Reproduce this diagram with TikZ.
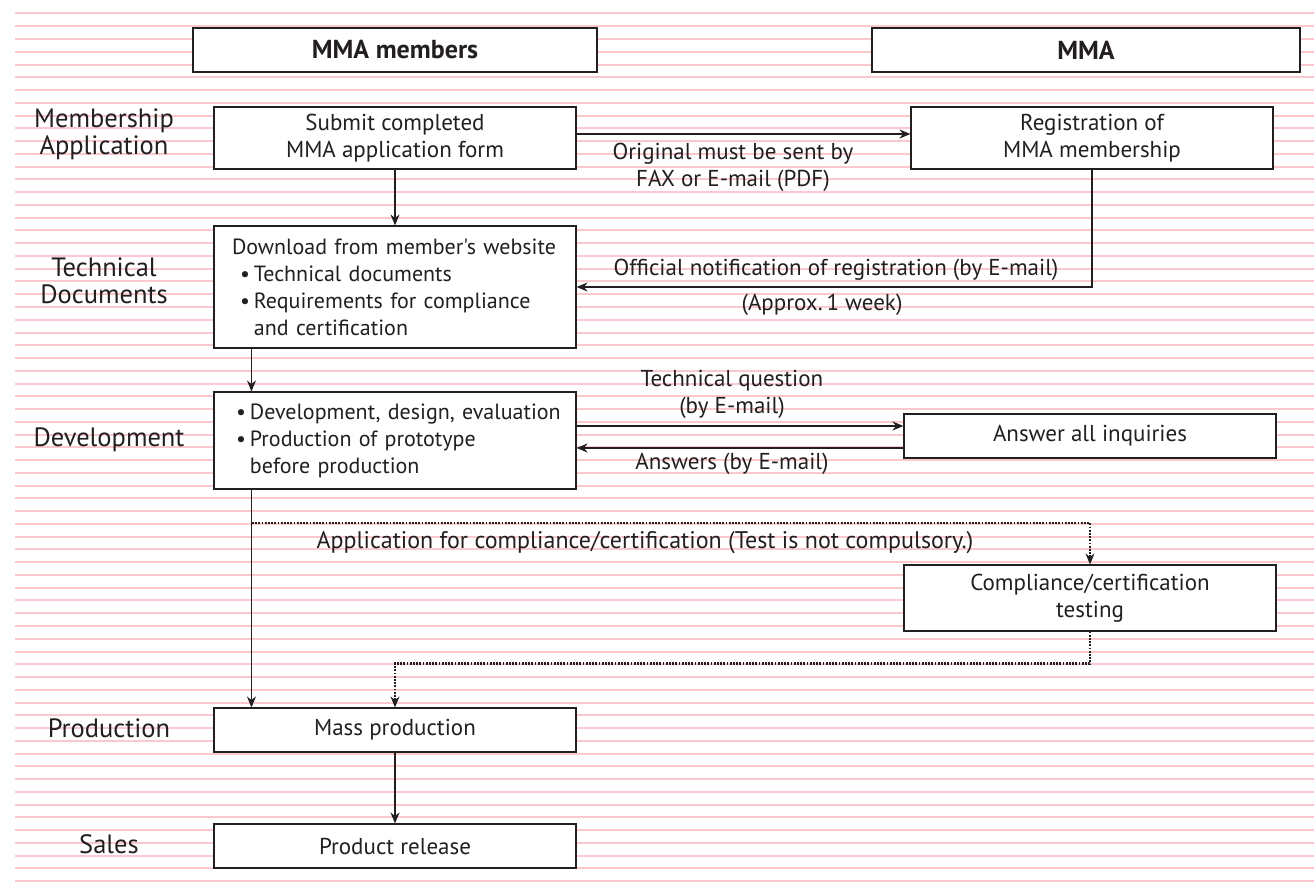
\documentclass[tikz,border=0pt]{standalone}
\usepackage{fontspec}
\setmainfont{PT Sans}[Ligatures=TeXOff]
\usetikzlibrary{arrows.meta,calc}
\definecolor{pinkline}{RGB}{251,200,205}
\definecolor{ink}{RGB}{35,31,32}
\begin{document}
\begin{tikzpicture}[x=1pt,y=-1pt,
  every node/.style={font=\fontsize{23}{27}\selectfont, text=ink},
  box/.style={draw=ink, line width=1.1pt, fill=white, inner sep=0pt, align=center},
  lbox/.style={box, text width=344, inner xsep=9pt, align=left, font=\fontsize{22}{27}\selectfont},
  hdr/.style={box, font=\fontsize{26}{30}\selectfont\bfseries},
  side/.style={align=center, font=\fontsize{26.5}{27}\selectfont},
  arr/.style={draw=ink, line width=1.1pt, -{Stealth[length=11pt,width=9pt]}},
  dotarr/.style={arr, line width=2.2pt, dash pattern=on 1.8pt off 1.4pt, -{Stealth[length=11pt,width=9pt,line width=0pt]}},
  bgline/.style={draw=pinkline, line width=2pt},
  lbl/.style={align=center}]
\useasboundingbox (0,0) rectangle (1314,888);
\fill[white] (0,0) rectangle (1314,888);
\foreach \i in {0,...,68}{
  \draw[bgline] (15,{13.5+\i*12.76}) -- (1314,{13.5+\i*12.76});
}
% headers
\node[hdr, minimum width=404, minimum height=44] (h1) at (395,50) {MMA members};
\node[hdr, minimum width=428, minimum height=44] (h2) at (1086,50) {MMA};
% left labels
\node[side] (l1) at (104,134) {Membership\\Application};
\node[side] (l2) at (104,281) {Technical\\Documents};
\node[side] (l3) at (109,440) {Development};
\node[side] (l4) at (109,728) {Production};
\node[side] (l5) at (109,844) {Sales};
% boxes
\node[box, minimum width=362, minimum height=62] (sub) at (395,138) {Submit completed\\MMA application form};
\node[box, minimum width=362, minimum height=62] (reg) at (1092,138) {Registration of\\MMA membership};
\node[lbox, minimum width=362, minimum height=122] (dl) at (395,287)
  {\mbox{\hspace*{9pt}Download from member's website}\\
   \mbox{\hspace*{17pt}\textbullet\hspace{4pt}Technical documents}\\
   \mbox{\hspace*{17pt}\textbullet\hspace{4pt}Requirements for compliance}\\
   \mbox{\hspace*{17pt}\phantom{\textbullet}\hspace{4pt}and certification}};
\node[lbox, minimum width=362, minimum height=97] (dev) at (395,440.5)
  {\mbox{\hspace*{13pt}\textbullet\hspace{4pt}Development, design, evaluation}\\
   \mbox{\hspace*{13pt}\textbullet\hspace{4pt}Production of prototype}\\
   \mbox{\hspace*{13pt}\phantom{\textbullet}\hspace{4pt}before production}};
\node[box, minimum width=372, minimum height=44] (ans) at (1090,436) {Answer all inquiries};
\node[box, minimum width=372, minimum height=66] (comp) at (1090,598) {Compliance/certification\\testing};
\node[box, minimum width=362, minimum height=44] (mass) at (395,730) {Mass production};
\node[box, minimum width=362, minimum height=44] (rel) at (395,846) {Product release};
% connectors
\draw[arr] ([yshift=4pt]sub.east) -- ([yshift=4pt]reg.west);
\node[lbl] (t1) at (733,167) {Original must be sent by\\FAX or E-mail (PDF)};
\draw[arr] (sub.south) -- (dl.north);
\draw[arr] (reg.south) |- (dl.east);
\node[lbl] (t2) at (836,270) {Official notification of registration (by E-mail)};
\node[lbl] (t3) at (822,305) {(Approx.\,1 week)};
\draw[arr] ([xshift=38pt]dl.south west) -- ([xshift=38pt]dev.north west);
\path ([yshift=10pt]ans.west) coordinate (q1);
\path ([yshift=-12pt]ans.west) coordinate (q2);
\draw[arr] (q1 -| dev.east) -- (q1);
\draw[arr] (q2) -- (q2 -| dev.east);
\node[lbl] (t4) at (732,394) {Technical question\\(by E-mail)};
\node[lbl] (t5) at (732,464) {Answers (by E-mail)};
\draw[arr] ([xshift=38pt]dev.south west) -- ([xshift=38pt]mass.north west);
\coordinate (d0) at (252,523);
\draw[dotarr] (d0) -| (comp.north);
\node[lbl, font=\fontsize{24}{27}\selectfont] (t6) at (645,543) {Application for compliance/certification (Test is not compulsory.)};
\draw[dotarr] (comp.south) -- ++(0,32) -| (mass.north);
\draw[arr] (mass.south) -- (rel.north);
\end{tikzpicture}
\end{document}
